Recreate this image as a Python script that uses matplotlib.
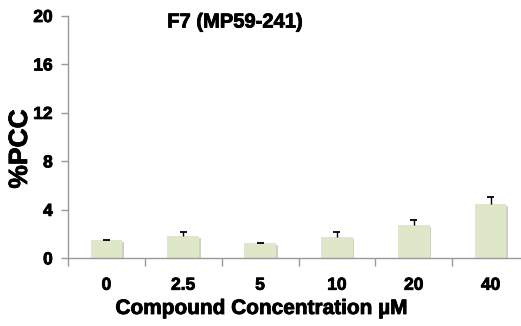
import matplotlib
matplotlib.use("Agg")
import matplotlib.pyplot as plt
import matplotlib.patheffects as pe
import numpy as np

categories = ["0", "2.5", "5", "10", "20", "40"]
values = [1.51, 1.84, 1.26, 1.76, 2.75, 4.49]
errors = [0.03, 0.30, 0.04, 0.38, 0.45, 0.58]
yticks = [0, 4, 8, 12, 16, 20]

plt.rcParams['font.family'] = ['Liberation Sans', 'DejaVu Sans']
plt.rcParams['font.weight'] = 'bold'

W, H = 521, 326
fig = plt.figure(figsize=(W / 100, H / 100), dpi=100)
ax = fig.add_axes([68 / W, (H - 258.3) / H, (529 - 68) / W, (258.3 - 16) / H])

x = np.arange(len(categories))
bars = ax.bar(x, values, width=0.41, color='#dfe7c9', edgecolor='none', zorder=2)
for b in bars:
    b.set_path_effects([pe.SimplePatchShadow(offset=(1.2, -1.2), alpha=0.25), pe.Normal()])

tops = np.array(values) + np.array(errors)
ax.vlines(x, values, tops, color='black', linewidth=1.0, zorder=3)
ax.hlines(tops, x - 0.045, x + 0.045, color='black', linewidth=1.3, zorder=3)

ax.set_xlim(-0.5, len(categories) - 0.5)
ax.set_ylim(0, 20)
ax.set_yticks(yticks)
ax.set_yticklabels([str(t) for t in yticks], fontsize=12.5, fontweight='bold')
ax.set_xticks(x)
ax.set_xticklabels(categories, fontsize=12.5, fontweight='bold')
ax.tick_params(axis='x', length=0, pad=14)
ax.set_xticks(np.arange(len(categories) + 1) - 0.5, minor=True)
ax.tick_params(axis='x', which='minor', length=6, color='#999999', width=1)
ax.tick_params(axis='y', length=5, color='#999999', width=1, pad=6)

for s in ['top', 'right']:
    ax.spines[s].set_visible(False)
for s in ['left', 'bottom']:
    ax.spines[s].set_color('#999999')
    ax.spines[s].set_linewidth(1)

thick = [pe.withStroke(linewidth=0.6, foreground='black')]

ax.set_ylabel('%PCC', fontsize=19, fontweight='bold', va='center')
ax.yaxis.set_label_coords(20 / W, 1 - 149 / H, transform=fig.transFigure)
ax.set_xlabel('Compound Concentration µM', fontsize=15, fontweight='bold', va='center')
ax.xaxis.set_label_coords(262 / W, 1 - 308.5 / H, transform=fig.transFigure)
title = fig.text(235 / W, 1 - 22 / H, 'F7 (MP59-241)', fontsize=14.5, fontweight='bold',
                 ha='center', va='center')

for t in ax.get_xticklabels() + ax.get_yticklabels() + [ax.xaxis.label, ax.yaxis.label, title]:
    t.set_path_effects(thick)

fig.savefig('out.png', dpi=100)
